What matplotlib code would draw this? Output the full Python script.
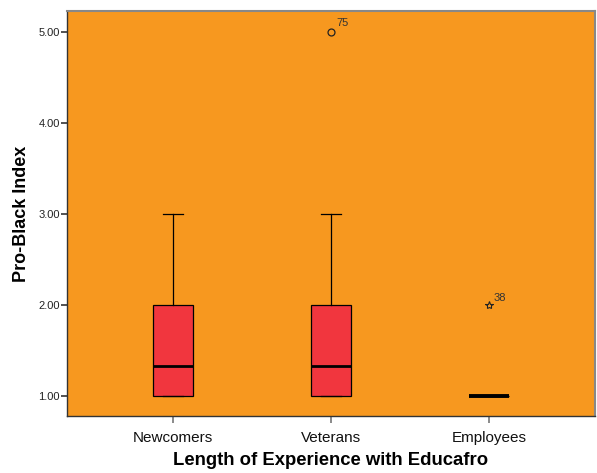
import matplotlib
matplotlib.use("Agg")
import matplotlib.pyplot as plt

plt.rcParams['font.family'] = ['Liberation Sans', 'DejaVu Sans']

# Box plot summaries per group
groups = ["Newcomers", "Veterans", "Employees"]
q1 = [1.0, 1.0, 1.0]
medians = [1.333, 1.333, 1.0]
q3 = [2.0, 2.0, 1.0]
whisker_low = [1.0, 1.0, 1.0]
whisker_high = [3.0, 3.0, 1.0]

# Outliers (circles) and extreme values (stars), with case labels
outlier_group = [2]
outlier_value = [5.0]
outlier_case = ["75"]
extreme_group = [3]
extreme_value = [2.0]
extreme_case = ["38"]

y_ticks = [1.0, 2.0, 3.0, 4.0, 5.0]

bg = "#F7981F"
box_color = "#F1363E"

fig = plt.figure(figsize=(5.97, 4.73), dpi=100)
ax = fig.add_axes([67/597, 1 - 416/473, (595-67)/597, (416-11)/473])
ax.set_facecolor(bg)

stats = []
for i, g in enumerate(groups):
    stats.append(dict(label=g, med=medians[i], q1=q1[i], q3=q3[i],
                      whislo=whisker_low[i], whishi=whisker_high[i], fliers=[]))

positions = list(range(1, len(groups) + 1))
artists = ax.bxp(stats, positions=positions, widths=0.253, patch_artist=True,
                 showfliers=False,
                 boxprops=dict(facecolor=box_color, edgecolor="black", linewidth=0.9),
                 medianprops=dict(color="black", linewidth=2.0, solid_capstyle="butt"),
                 whiskerprops=dict(color="black", linewidth=0.9),
                 capprops=dict(color="black", linewidth=0.9),
                 capwidths=0.127)
# collapsed box: median drawn heavier
artists["medians"][2].set_linewidth(2.8)

ax.plot(outlier_group, outlier_value, linestyle="none", marker="o",
        markersize=5, markerfacecolor="none", markeredgecolor="#222222",
        markeredgewidth=0.9)
for gx, v, c in zip(outlier_group, outlier_value, outlier_case):
    ax.annotate(c, (gx, v), xytext=(4, 4), textcoords="offset points",
                fontsize=8, color="#333333")

ax.plot(extreme_group, extreme_value, linestyle="none", marker="*",
        markersize=6, markerfacecolor="none", markeredgecolor="#222222",
        markeredgewidth=0.8)
for gx, v, c in zip(extreme_group, extreme_value, extreme_case):
    ax.annotate(c, (gx, v), xytext=(3, 3), textcoords="offset points",
                fontsize=8, color="#333333")

ax.set_xlim(0.33, 3.67)
ax.set_ylim(0.78, 5.23)
ax.set_yticks(y_ticks)
ax.set_yticklabels([f"{t:.2f}" for t in y_ticks], fontsize=8, color="#222222")
ax.set_xticks(positions)
ax.set_xticklabels(groups, fontsize=11, color="#111111")
ax.tick_params(axis="y", direction="out", length=4, width=1.2, color="#333333", pad=1)
ax.tick_params(axis="x", direction="out", length=5, width=1.2, color="#777777", pad=6)

for side in ["left", "bottom"]:
    ax.spines[side].set_color("#333333")
    ax.spines[side].set_linewidth(1.0)
for side in ["top", "right"]:
    ax.spines[side].set_color("#888888")
    ax.spines[side].set_linewidth(1.5)

ax.set_xlabel("Length of Experience with Educafro", fontsize=13.3, fontweight="bold", labelpad=5)
ax.set_ylabel("Pro-Black Index", fontsize=13, fontweight="bold", labelpad=6)

fig.savefig("out.png", dpi=100)
